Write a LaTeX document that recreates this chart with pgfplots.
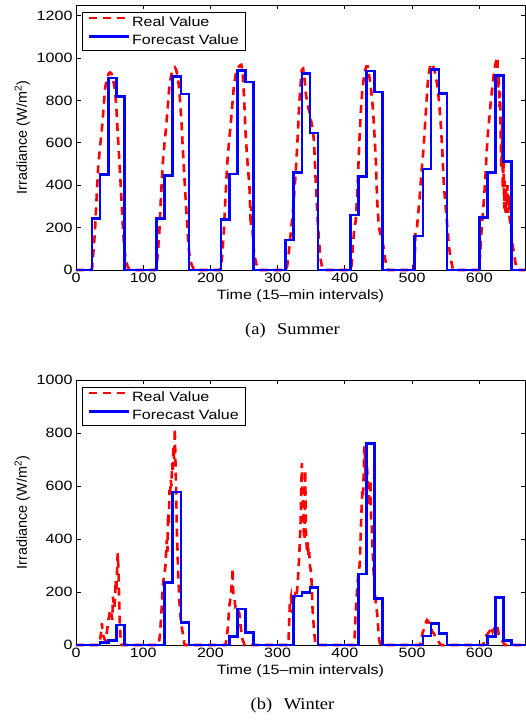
\documentclass[border=0pt]{standalone}
\usepackage{fontspec}
\setmainfont{Liberation Sans}[FakeStretch=1.19]
\newfontfamily\ylabfont{Liberation Sans}
\newfontfamily\capfont{Liberation Serif}[FakeStretch=1.12]
\usepackage{pgfplots}
\pgfplotsset{compat=1.18}
\definecolor{mred}{RGB}{255,0,0}
\definecolor{mblue}{RGB}{0,0,255}
\pgfplotsset{
  mystyle/.style={
    scale only axis, width=449pt, height=265pt,
    xmin=0, xmax=668, xtick={0,100,...,600},
    tick align=inside, major tick length=4.5pt,
    axis line style={line width=0.8pt},
    every tick/.style={black, line width=0.8pt},
    /pgf/number format/assume math mode=true,
    /pgf/number format/set thousands separator={},
    ticklabel style={font=\fontsize{13.5}{15}\selectfont},
    xlabel={Time (15\textendash min intervals)},
    xlabel style={font=\fontsize{13.5}{15}\selectfont},
    ylabel={Irradiance (W/m\textsuperscript{2})},
    ylabel style={font=\ylabfont\fontsize{14.4}{16}\selectfont},
    legend style={at={(0.0134,0.974)}, anchor=north west, draw=black, line width=0.8pt,
      font=\fontsize{13.5}{15}\selectfont, inner xsep=5pt, inner ysep=2pt, row sep=3.5pt},
    legend cell align=left,
    legend image code/.code={\draw[#1] (0pt,4pt) -- (40pt,4pt);},
    clip=false,
  },
  realst/.style={mred, line width=2.6pt, dash pattern=on 8pt off 6pt},
  forest/.style={mblue, line width=2.6pt, const plot mark left},
}
\begin{document}
\begin{tikzpicture}
\path[use as bounding box] (0,0) rectangle (526pt,720pt);
% Summer
\begin{axis}[mystyle, at={(76pt,450pt)}, anchor=south west, ymin=0, ymax=1250, ytick={0,200,...,1200}]
\addplot[realst] coordinates {
(0,0) (22,0) (24,10) (26,90) (28,170) (30,300) (33,485) (36,590) (38,645) (40,720) (43,850) (46,905) (49,928) (51,932) (53,925) (55,900) (58,850) (60,770) (62,650) (64,540) (66,430) (68,310) (70,190) (72,95) (74,50) (77,15) (80,0)
(118,0) (120,15) (122,90) (124,180) (126,320) (129,500) (132,610) (134,670) (136,750) (139,870) (142,925) (145,950) (147,956) (149,945) (151,915) (153,870) (155,790) (157,690) (159,567) (161,450) (163,340) (165,240) (167,130) (169,63) (172,25) (175,5) (177,0)
(214,0) (216,15) (218,90) (220,180) (222,320) (225,500) (228,620) (230,680) (232,760) (235,870) (238,930) (241,955) (244,965) (246,968) (248,930) (250,820) (252,660) (254,560) (256,470) (258,400) (259,300) (260,205) (261,300) (262,230) (264,110) (266,60) (269,20) (272,0)
(312,0) (314,15) (316,60) (318,130) (320,190) (322,252) (324,330) (326,420) (328,520) (330,640) (332,780) (334,870) (336,945) (338,950) (340,900) (342,830) (344,790) (346,760) (348,735) (350,700) (352,670) (354,610) (355,540) (356,460) (358,330) (360,210) (362,120) (364,50) (366,15) (368,0)
(408,0) (410,20) (412,120) (414,190) (416,230) (418,330) (420,480) (422,640) (424,760) (426,850) (428,900) (430,940) (432,960) (434,960) (436,920) (438,880) (440,820) (442,750) (444,640) (446,520) (448,330) (450,230) (452,180) (454,160) (456,130) (458,100) (460,50) (462,20) (464,0)
(502,0) (504,60) (505,170) (507,190) (509,260) (511,330) (513,420) (515,500) (517,570) (519,670) (521,770) (523,870) (525,930) (527,965) (529,975) (531,965) (533,945) (535,920) (537,880) (539,830) (541,760) (543,670) (545,560) (547,420) (549,330) (551,260) (553,180) (555,110) (557,60) (559,30) (561,0)
(599,0) (601,60) (603,170) (605,250) (607,340) (609,430) (611,560) (613,650) (615,720) (617,790) (619,850) (621,910) (623,955) (625,985) (627,1005) (628,860) (629,920) (630,770) (631,840) (632,600) (633,480) (634,700) (635,380) (636,520) (637,290) (638,420) (639,260) (640,380) (641,300) (642,400) (643,270) (644,350) (645,250) (646,220) (648,170) (650,110) (652,70) (654,30) (656,10) (658,0) (668,0)
};
\addlegendentry{Real Value}
\addplot[forest] coordinates {
(0,0) (24,242) (36,450) (48,905) (60,819) (72,0)
(120,242) (132,447) (144,913) (156,830) (168,0)
(216,238) (228,452) (240,940) (252,887) (264,0)
(312,142) (324,460) (336,928) (348,646) (360,0)
(408,260) (420,441) (432,939) (444,839) (456,0)
(504,161) (516,476) (528,945) (540,833) (552,0)
(600,247) (612,460) (624,918) (636,512) (648,0) (668,0)
};
\addlegendentry{Forecast Value}
\end{axis}
% Winter
\begin{axis}[mystyle, at={(76pt,75pt)}, anchor=south west, ymin=0, ymax=1000, ytick={0,200,...,1000}]
\addplot[realst] coordinates {
(0,0) (33,0) (35,8) (37,40) (38.5,82) (40,40) (42,25) (44,15) (46,50) (48,90) (50,120) (52,132) (54,94) (55,182) (57,140) (58,170) (59,245) (60,200) (62,346) (63,296) (64,195) (65,94) (66,40) (67,6) (68,0)
(123,0) (125,40) (127,120) (129,220) (131,260) (133,296) (135,396) (136,350) (137,497) (138,450) (139,585) (140,560) (141,623) (142,600) (143,686) (144,650) (145,749) (146,700) (147,818) (148,686) (149,585) (150,434) (151,360) (152,270) (154,160) (155,120) (157,70) (159,44) (161,6) (162,0)
(222,0) (224,20) (226,69) (228,145) (230,182) (232,240) (233,289) (234,195) (236,170) (237,145) (239,150) (240,132) (242,125) (243,120) (245,69) (247,30) (248,19) (250,6) (251,0)
(316,0) (318,150) (320,180) (322,120) (324,170) (326,190) (328,180) (330,240) (332,330) (334,450) (336,686) (337,560) (338,500) (339,420) (340,396) (341,660) (342,440) (343,380) (344,346) (345,390) (346,330) (347,350) (348,300) (350,270) (351,200) (352,132) (354,60) (356,6) (357,0)
(414,0) (416,120) (418,200) (420,270) (422,300) (423,371) (424,450) (425,522) (426,580) (427,560) (428,648) (429,749) (430,700) (431,620) (432,700) (433,673) (434,600) (435,585) (436,522) (437,560) (438,623) (439,480) (440,450) (441,371) (442,320) (443,260) (444,220) (446,160) (448,120) (450,50) (451,19) (453,0)
(512,0) (514,25) (516,50) (518,60) (520,80) (522,94) (524,90) (526,75) (528,69) (530,50) (532,45) (535,30) (538,19) (541,6) (543,0)
(606,0) (608,25) (610,35) (613,44) (616,55) (618,69) (620,50) (622,60) (624,69) (626,60) (627,69) (629,40) (631,31) (633,20) (635,12) (638,0) (668,0)
};
\addlegendentry{Real Value}
\addplot[forest] coordinates {
(0,0) (36,10) (48,18) (60,75) (72,0)
(132,236) (144,578) (156,85) (168,0)
(228,31) (240,136) (252,48) (264,0)
(324,185) (336,197) (348,216) (360,0)
(420,268) (432,760) (444,176) (456,0)
(516,34) (528,82) (540,44) (552,0)
(612,31) (624,180) (636,16) (648,0) (668,0)
};
\addlegendentry{Forecast Value}
\end{axis}
\node[font=\capfont\fontsize{16.5}{18}\selectfont] at (292.5pt,389pt) {(a)\hspace{0.7em}Summer};
\node[font=\capfont\fontsize{16.5}{18}\selectfont] at (292.5pt,14pt) {(b)\hspace{0.7em}Winter};
\end{tikzpicture}
\end{document}
